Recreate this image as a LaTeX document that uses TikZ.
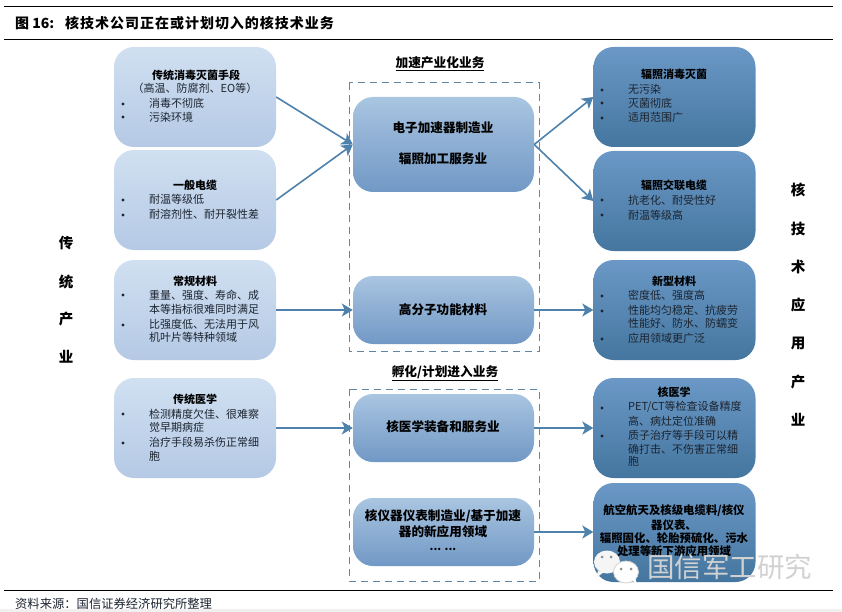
\documentclass[tikz,border=0pt]{standalone}
\usepackage{fontspec}
\setmainfont{Noto Sans CJK SC}
\newfontfamily\spaced[LetterSpace=7]{Noto Sans CJK SC}
\usetikzlibrary{arrows.meta}
\definecolor{inkc}{HTML}{1C2430}
\definecolor{arrowc}{HTML}{4F81AD}
\definecolor{dashc}{HTML}{5F86A5}
\definecolor{ltop}{HTML}{D0E0F1}
\definecolor{lbot}{HTML}{B5C9E5}
\definecolor{mtop}{HTML}{A9C5E1}
\definecolor{mbot}{HTML}{7198C5}
\definecolor{rtop}{HTML}{6B98C6}
\definecolor{rbot}{HTML}{44769F}
\newcounter{tn}
\tikzset{
  x=1pt,y=-1pt,
  boxbase/.style={rounded corners=20pt,inner sep=0pt,minimum width=162pt,minimum height=100pt,draw=none},
  lbox/.style={boxbase,top color=ltop,bottom color=lbot},
  mbox/.style={boxbase,minimum width=181pt,top color=mtop,bottom color=mbot},
  rbox/.style={boxbase,top color=rtop,bottom color=rbot},
  frame/.style={draw=dashc,line width=1pt,dash pattern=on 7pt off 5pt},
  link/.style={draw=arrowc,line width=1.6pt,-{Stealth[length=11pt,width=13pt,inset=3pt]}},
  body/.style={font=\fontsize{11}{11}\selectfont,text=inkc,inner sep=0pt},
  head/.style={font=\fontsize{11}{11}\selectfont\bfseries,text=black,inner sep=0pt},
  wide/.style={font=\fontsize{11.4}{11.4}\selectfont\bfseries,text=black,inner sep=0pt},
  mid/.style={font=\fontsize{12.6}{12.6}\selectfont\bfseries,text=black,inner sep=0pt},
  side/.style={font=\fontsize{14.5}{14.5}\selectfont\bfseries,text=black,inner sep=0pt},
  sect/.style={font=\fontsize{12.7}{12.7}\selectfont\bfseries,text=black,inner sep=0pt},
}
\newcommand{\putB}[4][body]{\stepcounter{tn}\node[#1,anchor=west] (t\thetn) at (#2,#3) {#4};}
\newcommand{\putC}[4][head]{\stepcounter{tn}\node[#1] (t\thetn) at (#2,#3) {#4};}
\newcommand{\dotat}[2]{\fill[inkc] (#1,#2) circle (1.6pt);}
\begin{document}
\begin{tikzpicture}
\useasboundingbox (0,0) rectangle (842,612);
\fill[white] (0,0) rectangle (842,612);
\fill[black!6] (0,609) rectangle (842,612);
% rules
\draw[line width=0.9pt] (4,6) -- (833,6);
\draw[line width=0.9pt] (4,39) -- (833,39);
\draw[line width=0.9pt] (4,590) -- (833,590);
% title and source
\node[anchor=west,inner sep=0pt,font=\fontsize{14}{14}\selectfont\bfseries] (title) at (15,23.5) {图 16:};
\node[anchor=west,inner sep=0pt,font=\fontsize{14}{14}\selectfont\bfseries\spaced] (title2) at (65,23.5) {核技术公司正在或计划切入的核技术业务};
\node[anchor=west,inner sep=0pt,font=\fontsize{12.3}{12.3}\selectfont,text=inkc] (src) at (15,604) {资料来源：国信证券经济研究所整理};
% frames
\draw[frame] (349,83) rectangle (539,351);
\draw[frame] (349,389) rectangle (539,581);
% boxes
\node[lbox] (l1) at (195,97) {};
\node[lbox] (l2) at (195,200) {};
\node[lbox] (l3) at (195,310) {};
\node[lbox] (l4) at (195,428) {};
\node[mbox,minimum height=95pt] (m1) at (443.5,144.5) {};
\node[mbox,minimum height=68pt] (m2) at (443.5,310) {};
\node[mbox,minimum height=68pt] (m3) at (443.5,428) {};
\node[mbox,minimum height=68pt] (m4) at (443.5,532) {};
\node[rbox] (r1) at (674.5,97) {};
\node[rbox] (r2) at (674.5,201) {};
\node[rbox] (r3) at (674.5,310) {};
\node[rbox] (r4) at (674.5,428) {};
\node[rbox,minimum height=99pt] (r5) at (674.5,532.5) {};
% connectors
\draw[link] (l1.east) -- (m1.west);
\draw[link] (l2.east) -- (m1.west);
\draw[link] (l3.east) -- (m2.west);
\draw[link] (l4.east) -- (m3.west);
\draw[link] (m1.east) -- (r1.west);
\draw[link] (m1.east) -- (r2.west);
\draw[link] (m2.east) -- (r3.west);
\draw[link] (m3.east) -- (r4.west);
\draw[link] (m4.east) -- (m4.east -| r5.west);
% section labels
\putC[sect]{440}{64}{\underline{加速产业化业务}}
\putC[sect]{445}{373}{\underline{孵化/计划进入业务}}
% side labels
\putC[side]{66}{243}{传}
\putC[side]{66}{282}{统}
\putC[side]{66}{319}{产}
\putC[side]{66}{357}{业}
\putC[side]{798}{190}{核}
\putC[side]{798}{229}{技}
\putC[side]{798}{267}{术}
\putC[side]{798}{305}{应}
\putC[side]{798}{344}{用}
\putC[side]{798}{382}{产}
\putC[side]{798}{420}{业}
% left column
\putC{196}{75}{传统消毒灭菌手段}
\putC[body]{195}{88}{（高温、防腐剂、EO等）}
\dotat{123}{104}\dotat{123}{117}
\putB{149}{103}{消毒不彻底}
\putB{149}{117}{污染环境}
\putC{195}{185}{一般电缆}
\dotat{123}{200}\dotat{123}{215}
\putB{149}{199}{耐温等级低}
\putB{149}{214}{耐溶剂性、耐开裂性差}
\putC{195}{281}{常规材料}
\dotat{123}{295}\dotat{123}{325}
\putB{149}{295}{重量、强度、寿命、成}
\putB{149}{309}{本等指标很难同时满足}
\putB{149}{324}{比强度低、无法用于风}
\putB{149}{337}{机叶片等特种领域}
\putC{195}{399}{传统医学}
\dotat{123}{414}\dotat{123}{443}
\putB{149}{414}{检测精度欠佳、很难察}
\putB{149}{427}{觉早期病症}
\putB{149}{442}{治疗手段易杀伤正常细}
\putB{149}{456}{胞}
% middle column
\putC[mid]{443}{128}{电子加速器制造业}
\putC[mid]{443}{159}{辐照加工服务业}
\putC[mid]{443}{310}{高分子功能材料}
\putC[mid]{443}{427}{核医学装备和服务业}
\putC[mid]{443}{516}{核仪器仪表制造业/基于加速}
\putC[mid]{443}{532}{器的新应用领域}
\putC[head]{443}{549}{... ...}
% right column
\putC{674}{74}{辐照消毒灭菌}
\dotat{602}{90}\dotat{602}{103}\dotat{602}{118}
\putB{628}{89}{无污染}
\putB{628}{103}{灭菌彻底}
\putB{628}{117}{适用范围广}
\putC{674}{185}{辐照交联电缆}
\dotat{602}{200}\dotat{602}{215}
\putB{628}{200}{抗老化、耐受性好}
\putB{628}{215}{耐温等级高}
\putC{674}{281}{新型材料}
\dotat{602}{296}\dotat{602}{311}\dotat{602}{339}
\putB{628}{295}{密度低、强度高}
\putB{628}{310}{性能均匀稳定、抗疲劳}
\putB{628}{323}{性能好、防水、防蠕变}
\putB{628}{338}{应用领域更广泛}
\putC{674}{392}{核医学}
\dotat{602}{408}\dotat{602}{436}
\putB{628}{407}{PET/CT等检查设备精度}
\putB{628}{421}{高、病灶定位准确}
\putB{628}{435}{质子治疗等手段可以精}
\putB{628}{449}{确打击、不伤害正常细}
\putB{628}{461}{胞}
\putC[wide]{674}{511}{航空航天及核级电缆料/核仪}
\putC[wide]{674}{525}{器仪表、}
\putC[wide]{674}{538}{辐照固化、轮胎预硫化、污水}
\putC[wide]{674}{551}{处理等新下游应用领域}
% watermark
\fill[white!92!gray] (607,562) ellipse (13pt and 11.5pt);
\fill[white!92!gray] (598,571) -- (596,578) -- (604,572) -- cycle;
\draw[white!65!gray,fill=white,line width=0.8pt] (626,572) ellipse (12.5pt and 11pt);
\fill[white] (632,580) -- (637,585) -- (635,577) -- cycle;
\fill[black!45] (602,557) circle (1.5pt);
\fill[black!45] (611,557) circle (1.5pt);
\fill[black!45] (621,569) circle (1.5pt);
\fill[black!45] (631,569) circle (1.5pt);
\node[anchor=west,inner sep=0pt,font=\fontsize{27.5}{27.5}\selectfont,text=black!18,draw=none] (wm) at (647,567) {国信军工研究};
\end{tikzpicture}
\end{document}
